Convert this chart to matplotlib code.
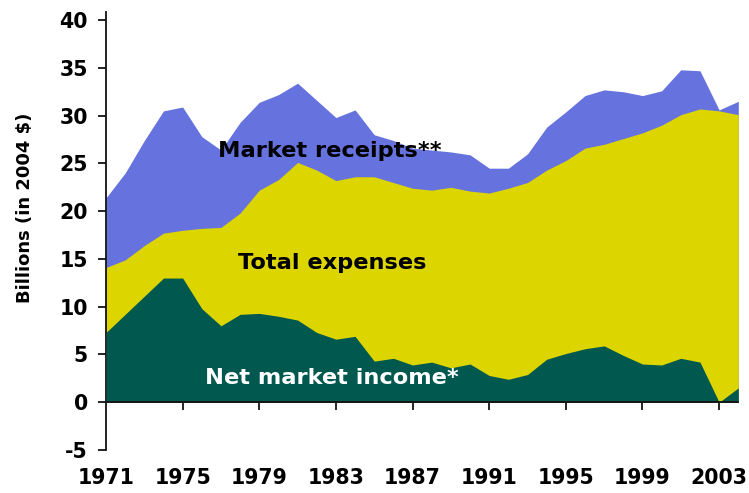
import matplotlib
matplotlib.use("Agg")
import matplotlib.pyplot as plt

years = list(range(1971, 2005))
market_receipts = [21.4, 24.0, 27.4, 30.5, 30.9, 27.8, 26.4, 29.3, 31.4, 32.2,
                   33.4, 31.6, 29.8, 30.6, 28.0, 27.4, 26.6, 26.4, 26.2, 25.9,
                   24.5, 24.5, 26.0, 28.8, 30.4, 32.1, 32.7, 32.5, 32.1, 32.6,
                   34.8, 34.7, 30.6, 31.5]
total_expenses = [14.1, 14.9, 16.4, 17.7, 18.0, 18.2, 18.3, 19.8, 22.2, 23.3,
                  25.1, 24.3, 23.2, 23.6, 23.6, 23.0, 22.4, 22.2, 22.5, 22.1,
                  21.9, 22.4, 23.0, 24.3, 25.3, 26.6, 27.0, 27.6, 28.2, 29.0,
                  30.1, 30.7, 30.5, 30.1]
net_market_income = [7.3, 9.2, 11.1, 13.0, 13.0, 9.8, 8.0, 9.2, 9.3, 9.0,
                     8.6, 7.3, 6.6, 6.9, 4.3, 4.6, 3.9, 4.2, 3.6, 4.0,
                     2.8, 2.4, 2.9, 4.5, 5.1, 5.6, 5.9, 4.9, 4.0, 3.9,
                     4.6, 4.2, 0.0, 1.5]
xticks = [1971, 1975, 1979, 1983, 1987, 1991, 1995, 1999, 2003]
yticks = [-5, 0, 5, 10, 15, 20, 25, 30, 35, 40]

BLUE = "#6673DE"
YELLOW = "#DCD500"
TEAL = "#00584F"

fig = plt.figure(figsize=(7.49, 4.93), dpi=100)
ax = fig.add_axes([106/749, (493-450)/493, (745-106)/749, (450-12)/493])

ax.fill_between(years, 0, market_receipts, color=BLUE, linewidth=0, zorder=1)
ax.fill_between(years, 0, total_expenses, color=YELLOW, linewidth=0, zorder=2)
ax.fill_between(years, 0, net_market_income, color=TEAL, linewidth=0, zorder=3)

ax.set_xlim(1971, 2004.35)
ax.set_ylim(-5, 40.85)

for s in ["top", "right"]:
    ax.spines[s].set_visible(False)
ax.spines["bottom"].set_position(("data", 0))
ax.spines["bottom"].set_zorder(5)
ax.spines["bottom"].set_bounds(1971, 2004)
for s in ["left", "bottom"]:
    ax.spines[s].set_linewidth(1.3)
    ax.spines[s].set_color("#111111")

ax.set_yticks(yticks)
ax.set_yticklabels([str(v) for v in yticks], fontsize=14.8, fontweight="bold")
ax.set_xticks(xticks)
ax.set_xticklabels([str(v) for v in xticks], fontsize=14.8, fontweight="bold")
ax.tick_params(axis="y", direction="out", length=6, width=1.2, pad=7)
ax.tick_params(axis="x", direction="out", length=6, width=1.2, pad=41)
ax.xaxis.get_major_ticks()[0].tick1line.set_visible(False)

fig.text(25/749, 1 - 208/493, "Billions (in 2004 $)", rotation=90,
         fontsize=13, fontweight="bold", ha="center", va="center")

ax.text(1982.7, 26.3, "Market receipts**", fontsize=16.2, fontweight="bold",
        color="black", ha="center", va="center", zorder=6)
ax.text(1982.8, 14.6, "Total expenses", fontsize=16.2, fontweight="bold",
        color="black", ha="center", va="center", zorder=6)
ax.text(1982.8, 2.5, "Net market income*", fontsize=16.2, fontweight="bold",
        color="white", ha="center", va="center", zorder=6)

fig.savefig("out.png", dpi=100)
